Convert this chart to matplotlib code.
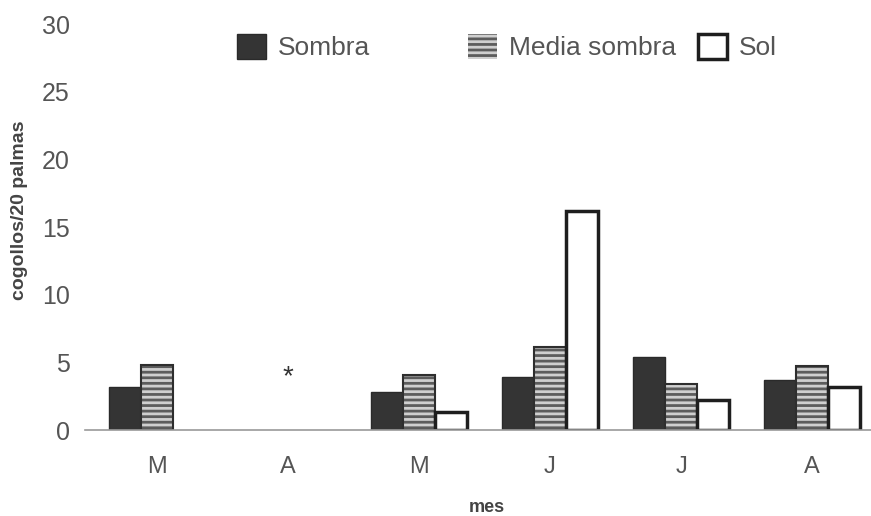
import matplotlib.pyplot as plt
import matplotlib.patches as mpatches
import numpy as np

plt.rcParams['font.family'] = ['Liberation Sans', 'DejaVu Sans']
plt.rcParams['hatch.linewidth'] = 2.0

# datos: cogollos por cada 20 palmas, por mes (nan = sin dato)
meses = ['M', 'A', 'M', 'J', 'J', 'A']
sombra = [3.2, np.nan, 2.8, 3.9, 5.4, 3.7]
media_sombra = [4.8, np.nan, 4.1, 6.1, 3.4, 4.7]
sol = [np.nan, np.nan, 1.3, 16.2, 2.2, 3.2]
marca_x = 1
marca_y = 3.9

W, H = 871, 516
fig = plt.figure(figsize=(W / 100, H / 100), dpi=100)
# ejes colocados en pixeles: izquierda 85, derecha 871, base 430, techo 24
ax = fig.add_axes([85 / W, 1 - 430 / H, (871 - 85) / W, (430 - 24) / H])

x = np.arange(len(meses))
w = 0.245
gris_txt = '#555555'

ax.bar(x - w, sombra, w, color='#343434', edgecolor='#2a2a2a', linewidth=1)
# media sombra: fondo gris con rayas claras y borde oscuro
ax.bar(x, media_sombra, w, color='#5c5c5c', edgecolor='#cfcfcf', hatch='---', linewidth=0)
ax.bar(x, media_sombra, w, fill=False, edgecolor='#2e2e2e', linewidth=1.5)
ax.bar(x + w, sol, w, color='white', edgecolor='#1e1e1e', linewidth=2.5)

ax.text(marca_x, marca_y, '*', ha='center', va='center', fontsize=20, color='#333333')

ax.set_xlim((85 - 157) / 131, (871 - 157) / 131)
ax.set_ylim(0, 30)
ax.set_yticks(range(0, 31, 5))
ax.set_xticks(x)
ax.set_xticklabels(meses)
ax.tick_params(axis='y', length=0, pad=11, labelsize=18, labelcolor=gris_txt)
ax.tick_params(axis='x', length=0, pad=19, labelsize=17, labelcolor=gris_txt)

for s in ['top', 'right', 'left']:
    ax.spines[s].set_visible(False)
ax.spines['bottom'].set_color('#9a9a9a')
ax.spines['bottom'].set_linewidth(1.2)

fig.text(20 / W, 1 - 210 / H, 'cogollos/20 palmas', rotation=90, ha='center', va='center',
         fontsize=14, fontweight='bold', color='#444444')
fig.text(487 / W, 1 - 508 / H, 'mes', ha='center', va='center',
         fontsize=13, fontweight='bold', color='#444444')

# leyenda: cada entrada en su lugar
h_sombra = mpatches.Patch(facecolor='#343434', edgecolor='#2a2a2a')
h_media = mpatches.Patch(facecolor='#5c5c5c', edgecolor='#cfcfcf', hatch='---', linewidth=0)
h_sol = mpatches.Patch(facecolor='white', edgecolor='#1e1e1e', linewidth=2.5)
entradas = [(h_sombra, 'Sombra', 237), (h_media, 'Media sombra', 468), (h_sol, 'Sol', 698)]
for h, lab, px in entradas:
    lg = fig.legend([h], [lab], loc='center left', bbox_to_anchor=(px / W, 1 - 47 / H),
                    frameon=False, fontsize=19, handlelength=1.1, handleheight=1.1,
                    handletextpad=0.45, borderpad=0, borderaxespad=0)
    for t in lg.get_texts():
        t.set_color(gris_txt)

fig.savefig('out.png', dpi=100, facecolor='white')
